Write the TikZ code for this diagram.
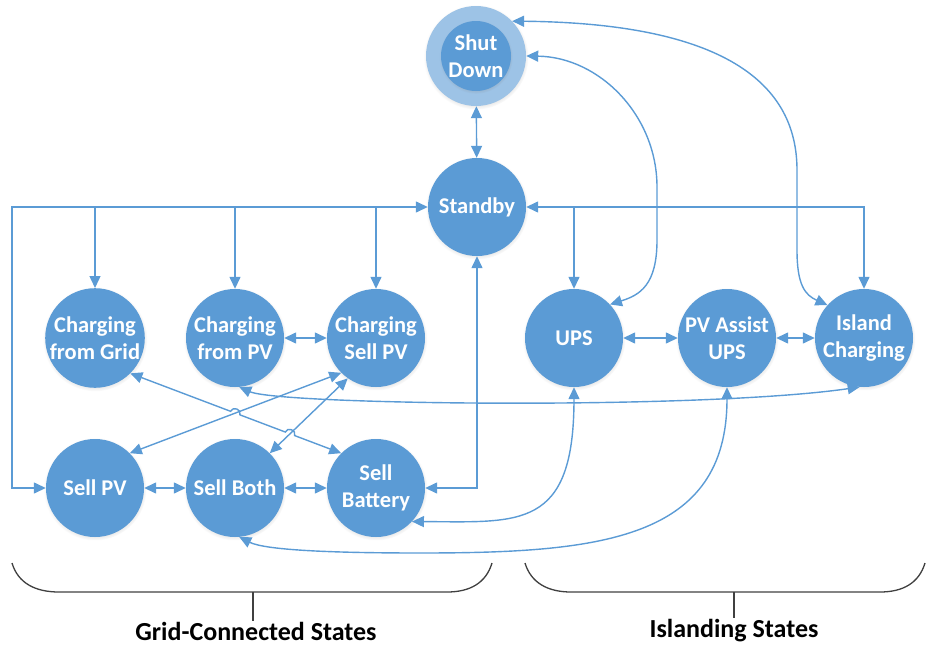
\documentclass[tikz,border=0pt]{standalone}
\usepackage{fontspec}
\setmainfont{Carlito}
\usetikzlibrary{arrows.meta,calc,intersections,shadows}
\definecolor{stateblue}{HTML}{5B9BD5}
\definecolor{ringblue}{HTML}{9DC3E6}
\definecolor{bracegray}{HTML}{404040}

\begin{document}
\begin{tikzpicture}[x=1pt,y=1pt,>={Triangle[length=12pt,width=11pt]},
  state/.style={circle,fill=stateblue,minimum size=98pt,inner sep=0pt,align=center,text=white,
    font=\bfseries\fontsize{22.5}{27}\selectfont,
    circular drop shadow={shadow xshift=0pt,shadow yshift=-1pt,shadow scale=1.05,opacity=0.3}},
  ring/.style={circle,fill=ringblue,minimum size=100pt,inner sep=0pt,
    circular drop shadow={shadow xshift=0pt,shadow yshift=-1pt,shadow scale=1.05,opacity=0.3}},
  link/.style={stateblue,line width=1.4pt},
  brace/.style={bracegray,line width=1.3pt},
  group/.style={inner sep=1pt,font=\bfseries\fontsize{26}{30}\selectfont}]
  \useasboundingbox (0,0) rectangle (927,-645);

  \node[ring] (sd) at (476,-56) {};
  \node[state,minimum size=70pt] (sdcore) at (sd) {Shut\\Down};
  \node[state] (sb) at (477,-207) {Standby};
  \node[state] (cg) at (95,-338) {Charging\\from Grid};
  \node[state] (cfp) at (235,-338) {Charging\\from PV};
  \node[state] (csp) at (376,-338) {Charging\\Sell PV};
  \node[state] (spv) at (95,-488) {Sell PV};
  \node[state] (sboth) at (235,-488) {Sell Both};
  \node[state] (sbat) at (376,-488) {Sell\\Battery};
  \node[state] (ups) at (574,-338) {UPS};
  \node[state] (pva) at (727,-338) {PV Assist\\UPS};
  \node[state] (ich) at (864,-338) {Island\\Charging};

  \draw[link,<->] (sd) -- (sb);
  \coordinate (bl) at (12,-207);
  \draw[link,<->] (spv.west) -| (bl) -- (sb.west);
  \foreach \n in {cg,cfp,csp}
    \draw[link,->] (\n |- bl) -- (\n.north);
  \draw[link,<->] (sb.east) -| (ich.north);
  \draw[link,->] (ups |- sb.east) -- (ups.north);
  \draw[link,<->] (sb.south) |- (sbat.east);

  \draw[link,<->] (cfp) -- (csp);
  \draw[link,<->] (spv) -- (sboth);
  \draw[link,<->] (sboth) -- (sbat);
  \draw[link,<->] (ups) -- (pva);
  \draw[link,<->] (pva) -- (ich);

  \path[name path=pa] (cg.-45) -- (sbat.135);
  \path[name path=pb] (csp.-135) -- (spv.45);
  \path[name path=pc] (csp.-125) -- (sboth.45);
  \path[name intersections={of=pa and pb,by=xa}];
  \path[name intersections={of=pa and pc,by=xb}];
  \draw[link,<->] (csp.-135) -- (spv.45);
  \draw[link,<->] (csp.-125) -- (sboth.45);
  \draw[link,<->] (cg.-45) -- ($(xa)!5pt!(cg.-45)$) to[bend left=90,looseness=1.5] ($(xa)!5pt!(sbat.135)$)
    -- ($(xb)!5pt!(cg.-45)$) to[bend left=90,looseness=1.5] ($(xb)!5pt!(sbat.135)$) -- (sbat.135);

  \draw[link,<->] (cfp.-85) .. controls (280,-405) and (700,-410) .. (ich.-95);
  \draw[link,<->] (ups.south) .. controls (574,-530) and (520,-522) .. (sbat.-43);
  \draw[link,<->] (pva.south) .. controls (727,-540) and (600,-553) .. (420,-553)
    .. controls (330,-553) and (265,-550) .. (sboth.-85);
  \draw[link,<->] (sd.east) .. controls (599,-57) and (657,-115) .. (657,-187) -- (657,-240)
    .. controls (657,-285) and (640,-295) .. (ups.43);
  \draw[link,<->] (sd.44) .. controls (700,-23) and (797,-70) .. (797,-170) -- (797,-250)
    .. controls (797,-285) and (805,-295) .. (ich.138);

  \draw[brace] (12,-563) .. controls (18,-583) and (35,-592) .. (59,-592) -- (447,-592)
    .. controls (470,-592) and (486,-583) .. (492,-563);
  \draw[brace] (525,-563) .. controls (531,-583) and (548,-592) .. (571,-592) -- (880,-592)
    .. controls (903,-592) and (919,-583) .. (925,-563);
  \node[group] (gridlbl) at (256,-631) {Grid-Connected States};
  \node[group] (islelbl) at (734,-631) {Islanding States};
  \coordinate (gridtick) at (253,-592);
  \coordinate (isletick) at (734,-592);
  \draw[brace] (gridtick) -- (gridtick |- gridlbl.north);
  \draw[brace] (isletick) -- (islelbl.north);
\end{tikzpicture}
\end{document}
